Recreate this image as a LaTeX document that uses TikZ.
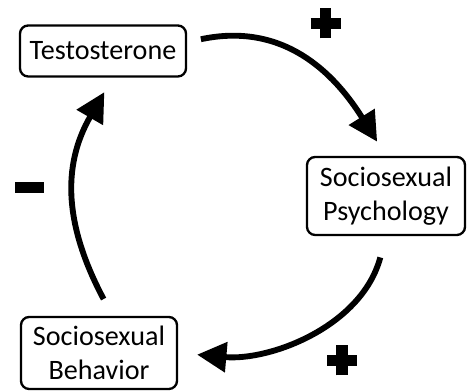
\documentclass[tikz,border=0pt]{standalone}
\usepackage{fontspec}
\setmainfont{Carlito}
\usetikzlibrary{arrows.meta}

\begin{document}
\begin{tikzpicture}[x=0.03cm, y=0.03cm,
  stage/.style={draw, line width=2pt, rounded corners=7pt, align=center,
    inner sep=0pt, font=\fontsize{24}{29}\selectfont},
  loop/.style={line width=5pt, -{Triangle[length=25pt, width=25pt]}},
  sign/.style={line width=10pt}]
\useasboundingbox (0,0) rectangle (467,391);
% the three stages of the loop
\node[stage, minimum width=166*0.03cm, minimum height=51*0.03cm] (testo) at (103,340) {Testosterone};
\node[stage, minimum width=158*0.03cm, minimum height=78*0.03cm] (psych) at (386,195) {Sociosexual\\Psychology};
\node[stage, minimum width=156*0.03cm, minimum height=72*0.03cm] (behav) at (99,38) {Sociosexual\\Behavior};
% curved arrows between them
\draw[loop, shorten <=0.42cm, shorten >=0.5cm] (testo.6) to[out=12, in=122, looseness=1.1] (psych.north);
\draw[loop, shorten <=0.66cm, shorten >=0.57cm] (psych.south) to[out=-105, in=-5] (behav.east);
\draw[loop, shorten <=0.57cm, shorten >=0.5cm] (behav.70) to[out=118, in=240, looseness=1.1] (testo.-70);
% signs on the arrows
\coordinate (plusA) at (325.5,367.5);
\coordinate (plusB) at (342,30.5);
\coordinate (minusA) at (29.5,203.5);
\foreach \p in {plusA, plusB}
  {\draw[sign] (\p) +(-15,0) -- +(15,0);
   \draw[sign] (\p) +(0,-15) -- +(0,15);}
\draw[line width=9.4pt] (minusA) +(-14.5,0) -- +(14.5,0);
\end{tikzpicture}
\end{document}
